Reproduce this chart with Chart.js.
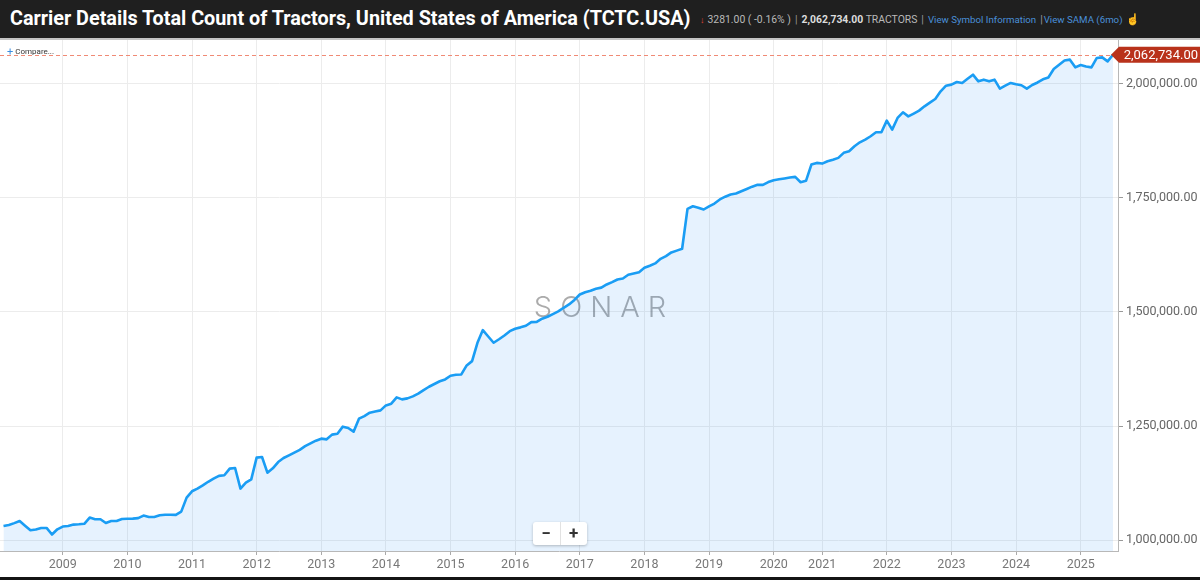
<!DOCTYPE html>
<html>
<head>
<meta charset="utf-8">
<script src="https://cdn.jsdelivr.net/npm/chart.js@4.4.1/dist/chart.umd.min.js"></script>
<style>
html, body { margin: 0; padding: 0; background: #fff; }
body { width: 1200px; height: 580px; position: relative; overflow: hidden; font-family: Roboto, "Noto Sans", sans-serif; }
#header { position: absolute; left: 0; top: 0; width: 1200px; height: 38px; background: #1f1f1f; border-bottom: 2px solid #c4c4c4; white-space: nowrap; }
#title { position: absolute; left: 10px; top: 7px; color: #fff; font-weight: bold; font-size: 19.8px; }
#meta { position: absolute; left: 700px; top: 13px; font-size: 10.4px; color: #b9b9b9; }
#meta .down { color: #e2463a; font-size: 9px; margin-right: 3px; }
#meta .sep { color: #9a9a9a; margin: 0 4px; }
#meta .big { color: #dcdcdc; font-weight: bold; }
#meta .link { color: #4a90d9; font-size: 9.7px; }
#meta .hand { color: #d8b400; font-size: 11px; margin-left: 3px; }
#wrap { position: absolute; left: 0; top: 40px; width: 1200px; height: 537px; }
#compare { position: absolute; left: 7px; top: 45px; font-size: 8px; color: #333; }
#compare span { color: #3c8fe0; font-size: 11px; vertical-align: -1px; margin-right: 2px; }
#zoomer { position: absolute; left: 533px; top: 522px; width: 54px; height: 23px; background: #fff; border-radius: 3px; box-shadow: 0 1px 3px rgba(0,0,0,0.25); display: flex; }
#zoomer div { flex: 1; text-align: center; line-height: 22px; font-size: 17px; font-weight: bold; color: #333; }
#zoomer div:first-child { border-right: 1px solid #e2e2e2; }
#bottom { position: absolute; left: 0; top: 577px; width: 1200px; height: 3px; background: #141414; }
</style>
</head>
<body>
<div id="header">
  <div id="title">Carrier Details Total Count of Tractors, United States of America (TCTC.USA)</div>
  <div id="meta"><span class="down">&#8595;</span>3281.00 ( -0.16% )<span class="sep">|</span><span class="big">2,062,734.00</span> TRACTORS<span class="sep">|</span><span class="link">View Symbol Information</span><span class="sep" style="margin-right:1px">|</span><span class="link">View SAMA (6mo)</span><span class="hand">&#9757;</span></div>
</div>
<div id="wrap"><canvas id="chart" width="1200" height="537"></canvas></div>
<div id="compare"><span>+</span>Compare...</div>
<div id="zoomer"><div>&minus;</div><div>+</div></div>
<div id="bottom"></div>
<script>
// monthly series, starts Feb 2008; three months of 2020 are absent in the source
const startYear = 2008
const startMonth = 2
const missingMonths = ['2020-04', '2020-05', '2020-06']

const tractors2008 = [1031300, 1033500, 1037500, 1042000, 1032000, 1021900, 1023400, 1027000, 1027000, 1012500, 1024000]
const tractors2009 = [1030000, 1031300, 1034300, 1035000, 1036000, 1049600, 1046000, 1046000, 1037800, 1042200, 1042200, 1046600]
const tractors2010 = [1047000, 1047400, 1048500, 1054000, 1051000, 1051000, 1054700, 1056000, 1055800, 1055500, 1062700, 1093400]
const tractors2011 = [1107200, 1113000, 1120000, 1128000, 1135000, 1141000, 1142200, 1156800, 1158200, 1113100, 1126200, 1133400]
const tractors2012 = [1180800, 1182200, 1148000, 1157500, 1171200, 1180000, 1186000, 1192000, 1198000, 1206000, 1212100, 1218000]
const tractors2013 = [1222400, 1220900, 1231200, 1233300, 1248700, 1245700, 1237700, 1266100, 1271900, 1279300, 1282000, 1284300]
const tractors2014 = [1295200, 1298900, 1312700, 1308400, 1310600, 1315000, 1321000, 1328700, 1336000, 1342000, 1348000, 1352100]
const tractors2015 = [1360200, 1362300, 1363000, 1382700, 1392100, 1432300, 1460000, 1446000, 1432300, 1440000, 1448300, 1457700]
const tractors2016 = [1463000, 1466000, 1469500, 1477400, 1478000, 1485000, 1489200, 1495000, 1501000, 1508900, 1516100, 1526000]
const tractors2017 = [1538000, 1543000, 1546000, 1550500, 1553000, 1559900, 1565000, 1570800, 1573000, 1581100, 1584000, 1586800]
const tractors2018 = [1596400, 1601000, 1606000, 1616100, 1622000, 1630000, 1634000, 1638000, 1725500, 1731200, 1728000, 1724000]
const tractors2019 = [1731000, 1737000, 1746000, 1752000, 1756700, 1759000, 1764000, 1769000, 1774000, 1778000, 1778000, 1784000]
const tractors2020 = [1788000, 1790000, 1792000, 1794000, 1795400, 1783700, 1786700, 1822300, 1826000]
const tractors2021 = [1824500, 1829600, 1833000, 1837000, 1848000, 1851500, 1862400, 1871100, 1877000, 1884300, 1893000, 1893000]
const tractors2022 = [1918500, 1898800, 1924400, 1936700, 1927900, 1934000, 1940400, 1949800, 1958000, 1965900, 1982600, 1995000]
const tractors2023 = [1997300, 2003100, 2001000, 2010000, 2019100, 2004500, 2008200, 2004500, 2008200, 1988600, 1995000, 2001000]
const tractors2024 = [1998000, 1996000, 1988600, 1996500, 2002000, 2009000, 2013000, 2031600, 2041000, 2050000, 2052000, 2035100]
const tractors2025 = [2040400, 2037000, 2035100, 2055700, 2057000, 2048300, 2062734]

const yTicks = [1000000, 1250000, 1500000, 1750000, 2000000]
const yMin = 976500
const yMax = 2095000
const watermark = 'SONAR'

const tractors = [].concat(tractors2008, tractors2009, tractors2010, tractors2011, tractors2012,
    tractors2013, tractors2014, tractors2015, tractors2016, tractors2017, tractors2018, tractors2019,
    tractors2020, tractors2021, tractors2022, tractors2023, tractors2024, tractors2025)

/* month keys for every point, skipping the absent ones */
const months = []
let yr = startYear, mo = startMonth
while (months.length < tractors.length) {
    const key = yr + '-' + String(mo).padStart(2, '0')
    if (!missingMonths.includes(key)) months.push(key)
    mo++
    if (mo > 12) { mo = 1; yr++ }
}
const yearStarts = []
months.forEach((m, i) => { if (m.endsWith('-01')) yearStarts.push(i) })

function money(v) {
    return v.toLocaleString('en-US', { minimumFractionDigits: 2, maximumFractionDigits: 2 })
}

const sonarMark = {
    id: 'sonarMark',
    beforeDatasetsDraw(chart) {
        const { ctx, chartArea } = chart
        ctx.save()
        ctx.font = '300 29px Inter'
        ctx.letterSpacing = '8px'
        ctx.fillStyle = 'rgba(115,115,115,0.6)'
        ctx.textAlign = 'center'
        ctx.textBaseline = 'middle'
        ctx.fillText(watermark, chart.width / 2 + 4, (chartArea.top + chartArea.bottom) / 2 + 13)
        ctx.restore()
        // dashed guide at the latest value
        const y = Math.round(chart.scales.y.getPixelForValue(tractors[tractors.length - 1])) + 0.5
        ctx.save()
        ctx.strokeStyle = '#f08a75'
        ctx.lineWidth = 1
        ctx.setLineDash([4, 3])
        ctx.beginPath()
        ctx.moveTo(chartArea.left, y)
        ctx.lineTo(chartArea.right, y)
        ctx.stroke()
        ctx.restore()
    }
}

const lastLabel = {
    id: 'lastLabel',
    afterDraw(chart) {
        const { ctx, chartArea } = chart
        const last = tractors[tractors.length - 1]
        const y = chart.scales.y.getPixelForValue(last)
        const tip = chartArea.right - 7
        ctx.save()
        ctx.fillStyle = '#b9321b'
        ctx.beginPath()
        ctx.moveTo(tip, y)
        ctx.lineTo(tip + 8, y - 8)
        ctx.lineTo(chart.width, y - 8)
        ctx.lineTo(chart.width, y + 8)
        ctx.lineTo(tip + 8, y + 8)
        ctx.closePath()
        ctx.fill()
        ctx.fillStyle = '#fff'
        ctx.font = '13px Roboto'
        ctx.textAlign = 'right'
        ctx.textBaseline = 'middle'
        ctx.fillText(money(last), chart.width - 2, y + 1)
        ctx.restore()
    }
}

new Chart(document.getElementById('chart'), {
    type: 'line',
    data: {
        datasets: [{
            data: tractors.map((v, i) => ({ x: i, y: v })),
            borderColor: '#1a9df4',
            borderWidth: 2.6,
            borderJoinStyle: 'round',
            backgroundColor: 'rgba(25,140,245,0.11)',
            fill: 'start',
            pointRadius: 0,
            tension: 0,
        }]
    },
    options: {
        responsive: false,
        animation: false,
        layout: { padding: 0 },
        plugins: { legend: { display: false }, tooltip: { enabled: false } },
        scales: {
            x: {
                type: 'linear',
                min: -0.65,
                max: tractors.length - 1 + 0.93,
                afterBuildTicks: (scale) => { scale.ticks = yearStarts.map(v => ({ value: v })) },
                afterFit: (scale) => { scale.height = 26; scale.paddingLeft = 0; scale.paddingRight = 0 },
                ticks: {
                    autoSkip: false, maxRotation: 0, padding: 2, color: '#777',
                    font: { family: 'Roboto', size: 12.5 },
                    callback: (v) => months[v] ? months[v].slice(0, 4) : ''
                },
                grid: { color: '#ececec', tickColor: '#aaa', tickLength: 4 },
                border: { color: '#b8b8b8' }
            },
            y: {
                position: 'right',
                min: yMin,
                max: yMax,
                afterBuildTicks: (scale) => { scale.ticks = yTicks.map(v => ({ value: v })) },
                afterFit: (scale) => { scale.width = 82; scale.paddingTop = 0; scale.paddingBottom = 0 },
                ticks: {
                    padding: 3, color: '#666',
                    font: { family: 'Roboto', size: 12.5 },
                    callback: (v) => money(v)
                },
                grid: { color: '#ececec', tickColor: '#999', tickLength: 5 },
                border: { color: '#b8b8b8' }
            }
        }
    },
    plugins: [sonarMark, lastLabel]
})
</script>
</body>
</html>
